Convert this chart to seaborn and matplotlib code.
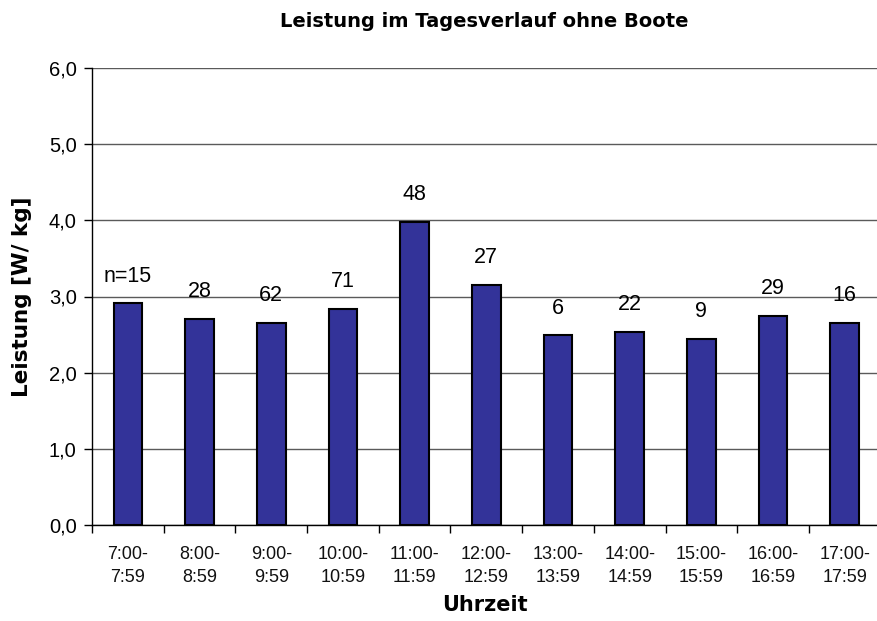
import matplotlib
matplotlib.use("Agg")
import matplotlib.pyplot as plt
import seaborn as sns
import pandas as pd
import numpy as np
from matplotlib.ticker import FuncFormatter, MultipleLocator

# Hourly time slots (two-line tick labels)
slots = ["7:00-\n7:59", "8:00-\n8:59", "9:00-\n9:59", "10:00-\n10:59",
         "11:00-\n11:59", "12:00-\n12:59", "13:00-\n13:59", "14:00-\n14:59",
         "15:00-\n15:59", "16:00-\n16:59", "17:00-\n17:59"]
# Mean power per slot [W/kg]
power = [2.91, 2.71, 2.65, 2.84, 3.98, 3.15, 2.49, 2.54, 2.44, 2.75, 2.65]
# Number of measurements per slot
counts = ["n=15", "28", "62", "71", "48", "27", "6", "22", "9", "29", "16"]

df = pd.DataFrame({"Uhrzeit": slots, "Leistung": power})

sns.set_theme(style="white")
plt.rcParams["font.family"] = ["Liberation Sans", "DejaVu Sans"]
plt.rcParams["text.color"] = "black"
plt.rcParams["axes.labelcolor"] = "black"
bold_family = ["DejaVu Sans"]

fig = plt.figure(figsize=(8.77, 6.21), dpi=100)
ax = fig.add_axes([92 / 877, (621 - 525) / 621, (877 - 92) / 877, (525 - 68) / 621])

sns.barplot(data=df, x="Uhrzeit", y="Leistung", color="#333399",
            saturation=1, width=0.4, edgecolor="black", linewidth=1.5,
            ax=ax, zorder=3)

ax.set_ylim(0, 6)
ax.set_xlim(-0.5, len(slots) - 0.55)
ax.yaxis.set_major_locator(MultipleLocator(1))
ax.yaxis.set_major_formatter(FuncFormatter(lambda v, p: f"{v:.1f}".replace(".", ",")))
ax.grid(axis="y", color="#5a5a5a", linewidth=1.0, zorder=0)
ax.grid(axis="x", visible=False)

for side in ["top", "right"]:
    ax.spines[side].set_visible(False)
for side in ["left", "bottom"]:
    ax.spines[side].set_color("black")
    ax.spines[side].set_linewidth(1.0)

# x ticks sit between categories; labels centred under bars
ax.set_xticks(np.arange(len(slots)))
ax.set_xticklabels(slots, fontsize=13, linespacing=1.45)
ax.tick_params(axis="x", length=0, pad=15, colors="#111111")
ax.set_xticks(np.arange(len(slots)) - 0.5, minor=True)
ax.tick_params(axis="x", which="minor", bottom=True, length=6, width=1, color="black")
ax.tick_params(axis="y", left=True, length=6, width=1, color="black",
               labelsize=14.5, pad=5, labelcolor="black")

# sample size above each bar
for i, (v, c) in enumerate(zip(power, counts)):
    ax.annotate(c, (i, v), xytext=(0, 12), textcoords="offset points",
                ha="center", va="bottom", fontsize=15.5, color="black")

ax.set_xlabel("Uhrzeit", fontsize=15, fontweight="bold", labelpad=7,
              family=bold_family, color="black")
ax.set_ylabel("Leistung [W/ kg]", fontsize=15.5, fontweight="bold", labelpad=12,
              family=bold_family, color="black")
ax.set_title("Leistung im Tagesverlauf ohne Boote", fontsize=14,
             fontweight="bold", pad=29.5, family=bold_family, color="black")

fig.savefig("out.png", dpi=100)
